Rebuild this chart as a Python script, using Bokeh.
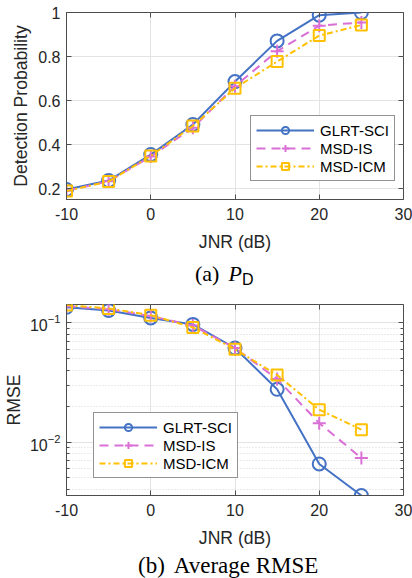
from bokeh.plotting import figure
from bokeh.models import (Range1d, LinearAxis, LogAxis, FixedTicker, NumeralTickFormatter,
                          LogTickFormatter, Legend, LegendItem, Div)
from bokeh.layouts import column
from bokeh.embed import file_html
from bokeh.resources import INLINE

# ---------------- data ----------------
jnr_db = [-10, -5, 0, 5, 10, 15, 20, 25]
series_names = ["GLRT-SCI", "MSD-IS", "MSD-ICM"]

pd_glrt_sci = [0.195, 0.236, 0.354, 0.491, 0.686, 0.871, 0.988, 1.0]
pd_msd_is = [0.190, 0.233, 0.345, 0.476, 0.665, 0.824, 0.940, 0.955]
pd_msd_icm = [0.189, 0.232, 0.348, 0.484, 0.656, 0.777, 0.895, 0.943]

rmse_glrt_sci = [0.135, 0.127, 0.110, 0.097, 0.0615, 0.0277, 0.00655, 0.00356]
rmse_msd_is = [0.138, 0.130, 0.114, 0.095, 0.0615, 0.0338, 0.0144, 0.00735]
rmse_msd_icm = [0.141, 0.132, 0.116, 0.0915, 0.0600, 0.0365, 0.0187, 0.0127]

x_ticks = [-10, 0, 10, 20, 30]
x_tick_labels = {-10: "-10", 0: "0", 10: "10", 20: "20", 30: "30"}
pd_ticks = [0.2, 0.4, 0.6, 0.8, 1.0]
rmse_ticks = [0.01, 0.1]
rmse_minor_ticks = [m * d for d in (0.001, 0.01) for m in range(2, 10)]

# ---------------- style ----------------
colors = ["#4472C4", "#DA70D6", "#FFC000"]
dashes = ["solid", "9 6", "6 3 2 3"]
markers = ["circle", "cross", "square"]
msizes = [13, 13, 11]
FONT = "Liberation Sans"
AX = "#4d4d4d"
TXT = "#262626"


def style_axis(ax, ticker, labels=True, minor=False):
    ax.ticker = ticker
    ax.axis_line_color = AX
    ax.major_tick_line_color = AX
    ax.major_tick_in = 5
    ax.major_tick_out = 0
    if minor:
        ax.minor_tick_line_color = AX
        ax.minor_tick_in = 3
        ax.minor_tick_out = 0
    else:
        ax.minor_tick_line_color = None
    if labels:
        ax.major_label_text_font = FONT
        ax.major_label_text_font_size = "16px"
        ax.major_label_text_color = TXT
        ax.axis_label_text_font = FONT
        ax.axis_label_text_font_size = "17.6px"
        ax.axis_label_text_font_style = "normal"
        ax.axis_label_text_color = TXT
    else:
        ax.axis_line_color = None
        ax.major_label_text_color = None
        ax.major_label_text_font_size = "0px"
        ax.major_label_standoff = 0


def make_fig(ys, y_range, y_type, ylabel, frame_h, left, top, bottom, frame_w, yticker, yformatter,
             leg_loc, minor, ylab_standoff):
    p = figure(frame_width=frame_w, frame_height=frame_h, x_range=Range1d(-10, 30), y_range=y_range,
               y_axis_type=y_type, output_backend="svg", toolbar_location=None,
               min_border_left=left, min_border_right=10, min_border_top=top, min_border_bottom=bottom)
    p.outline_line_color = AX
    p.outline_line_width = 1
    p.background_fill_color = "white"
    p.border_fill_color = "white"

    style_axis(p.xaxis[0], FixedTicker(ticks=x_ticks))
    p.xaxis[0].major_label_overrides = x_tick_labels
    p.xaxis[0].axis_label = "JNR (dB)"
    p.xaxis[0].major_label_standoff = 8
    p.xaxis[0].axis_label_standoff = 9
    style_axis(p.yaxis[0], yticker, minor=minor)
    p.yaxis[0].formatter = yformatter
    p.yaxis[0].axis_label = ylabel
    p.yaxis[0].major_label_standoff = 6
    p.yaxis[0].axis_label_standoff = ylab_standoff

    top_ax = LinearAxis()
    style_axis(top_ax, FixedTicker(ticks=x_ticks), labels=False)
    p.add_layout(top_ax, "above")
    right_ax = LogAxis() if y_type == "log" else LinearAxis()
    style_axis(right_ax, yticker, labels=False, minor=minor)
    p.add_layout(right_ax, "right")

    p.xgrid.grid_line_color = "#e3e3e3"
    p.ygrid.grid_line_color = "#e3e3e3"
    if minor:
        p.ygrid.minor_grid_line_color = "#d6d6d6"
        p.ygrid.minor_grid_line_dash = "1 2"

    items = []
    for name, y, c, d, m, s in zip(series_names, ys, colors, dashes, markers, msizes):
        lr = p.line(jnr_db, y, line_color=c, line_width=2, line_dash=d)
        sr = p.scatter(jnr_db, y, marker=m, size=s, line_color=c, line_width=2, fill_color=None)
        items.append(LegendItem(label=name, renderers=[lr, sr]))
    leg = Legend(items=items, location=leg_loc, border_line_color="#262626", border_line_width=1,
                 background_fill_color="white", background_fill_alpha=1,
                 label_text_font=FONT, label_text_font_size="15px", label_text_color="#000000",
                 glyph_width=58, glyph_height=18, label_height=18, label_standoff=6,
                 padding=5, spacing=0, margin=0)
    p.add_layout(leg)
    return p


p1 = make_fig([pd_glrt_sci, pd_msd_is, pd_msd_icm], Range1d(0.15, 1.0), "linear",
              "Detection Probability", 187, 65, 12, 59, 337,
              FixedTicker(ticks=pd_ticks), NumeralTickFormatter(format="0.[0]"), (184, 18), False, 4)

p2 = make_fig([rmse_glrt_sci, rmse_msd_is, rmse_msd_icm], Range1d(0.00356, 0.1425), "log",
              "RMSE", 191, 65, 18, 58, 337,
              FixedTicker(ticks=rmse_ticks, minor_ticks=rmse_minor_ticks), LogTickFormatter(),
              (27, 17), True, 3)

cap_a = Div(text=("<div style=\"padding-left:195px;padding-top:3px;font-family:'Liberation Serif';"
                  "font-size:22px;line-height:25px;white-space:nowrap;color:#000\">(a)"
                  "<span style=\"font-style:italic;margin-left:9px\">P</span>"
                  "<span style=\"font-family:'Liberation Sans';font-size:16px;position:relative;top:4px\">D</span>"
                  "</div>"), width=412, height=28, margin=0)
cap_b = Div(text=("<div style=\"padding-left:138px;font-family:'Liberation Serif';font-size:23px;"
                  "line-height:25px;white-space:nowrap;color:#000\">(b)"
                  "<span style=\"margin-left:9px\">Average RMSE</span></div>"), width=412, height=25, margin=0)

layout = column(p1, cap_a, p2, cap_b, spacing=0)
open("out.html", "w").write(file_html(layout, INLINE))
